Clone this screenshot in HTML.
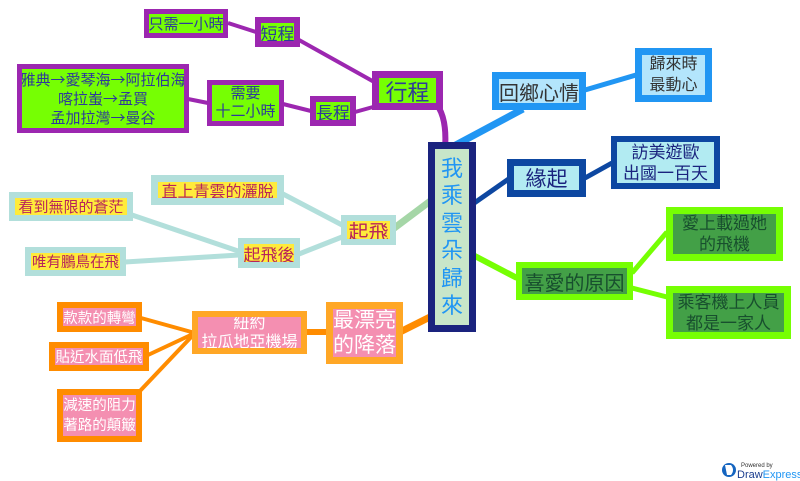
<!DOCTYPE html>
<html><head><meta charset="utf-8">
<style>
html,body{margin:0;padding:0;background:#fff;}
body{width:800px;height:481px;position:relative;overflow:hidden;font-family:"Liberation Sans","Noto Sans CJK TC","Noto Sans CJK SC",sans-serif;}
.n{position:absolute;box-sizing:border-box;border-style:solid;display:flex;align-items:center;justify-content:center;text-align:center;white-space:nowrap;overflow:hidden;}
.p{border-color:#9c27b0;background:#76ff03;color:#2e3a9a;}
.b{border-color:#2196f3;background:#b3e5fc;color:#333;}
.d{border-color:#0d47a1;background:#b2ebf2;color:#1a237e;}
.g{border-color:#76ff03;background:#43a047;color:#184f2e;}
.t{border-color:#b2dfdb;background:#ffeb3b;color:#b8245a;}
.o{border-color:#ff8c00;background:#f48fb1;color:#fff;}
.o2{border-color:#ffa726;background:#f48fb1;color:#fff;}
svg{position:absolute;left:0;top:0;}
</style></head><body>
<svg width="800" height="481" viewBox="0 0 800 481">
 <g stroke-linecap="butt" fill="none">
  <g stroke="#9c27b0" stroke-width="4">
   <line x1="228" y1="23" x2="256" y2="32"/>
   <line x1="299" y1="40" x2="376" y2="83"/>
   <line x1="355" y1="112" x2="373" y2="107"/>
   <line x1="283" y1="104" x2="311" y2="111"/>
   <line x1="188" y1="99" x2="208" y2="103"/>
  </g>
  <path d="M439,108 Q447,122 445,149" stroke="#9c27b0" stroke-width="6"/>
  <line x1="452" y1="147" x2="523" y2="109" stroke="#2196f3" stroke-width="7"/>
  <line x1="585" y1="90" x2="636" y2="75" stroke="#2196f3" stroke-width="5"/>
  <line x1="470" y1="206" x2="510" y2="178" stroke="#0d47a1" stroke-width="5"/>
  <line x1="585" y1="178" x2="612" y2="163" stroke="#0d47a1" stroke-width="5"/>
  <line x1="471" y1="254" x2="517" y2="278" stroke="#76ff03" stroke-width="6"/>
  <line x1="632" y1="273" x2="667" y2="232" stroke="#76ff03" stroke-width="5"/>
  <line x1="632" y1="288" x2="667" y2="297" stroke="#76ff03" stroke-width="5"/>
  <line x1="393" y1="229" x2="433" y2="199" stroke="#a5d6a7" stroke-width="7"/>
  <g stroke="#b2dfdb" stroke-width="5">
   <line x1="283" y1="194" x2="344" y2="226"/>
   <line x1="299" y1="254" x2="342" y2="237"/>
   <line x1="132" y1="215" x2="241" y2="252"/>
   <line x1="125" y1="262" x2="239" y2="255"/>
  </g>
  <line x1="400" y1="332" x2="432" y2="316" stroke="#ff8c00" stroke-width="7"/>
  <line x1="306" y1="332" x2="327" y2="332" stroke="#ff8c00" stroke-width="6"/>
  <g stroke="#ff8c00" stroke-width="4">
   <line x1="141" y1="318" x2="195" y2="333"/>
   <line x1="148" y1="355" x2="195" y2="333"/>
   <line x1="139" y1="392" x2="195" y2="333"/>
  </g>
 </g>
 <!-- logo -->
 <circle cx="729" cy="470" r="7" fill="#1565c0"/>
 <path d="M725,465 L731,465 Q735,470 731,475 L727,475 Z" fill="#fff"/>
 <text x="741" y="467" font-size="6" fill="#333" font-family="Liberation Sans, sans-serif">Powered by</text>
 <text x="737" y="478" font-size="11" fill="#1a3d8f" font-family="Liberation Sans, sans-serif">Draw<tspan fill="#2196f3">Express</tspan></text>
</svg>

<div class="n p" style="left:144px;top:9px;width:84px;height:29px;border-width:5px;font-size:15px;">只需一小時</div>
<div class="n p" style="left:255px;top:17px;width:45px;height:30px;border-width:6px;font-size:17px;">短程</div>
<div class="n p" style="left:372px;top:71px;width:71px;height:39px;border-width:7px;font-size:22px;">行程</div>
<div class="n p" style="left:17px;top:64px;width:172px;height:69px;border-width:5px;font-size:15px;line-height:19px;font-family:'Noto Sans CJK TC','Noto Sans CJK SC',sans-serif;">雅典→愛琴海→阿拉伯海<br>喀拉蚩→孟買<br>孟加拉灣→曼谷</div>
<div class="n p" style="left:207px;top:80px;width:77px;height:46px;border-width:5px;font-size:15px;line-height:18px;">需要<br>十二小時</div>
<div class="n p" style="left:310px;top:96px;width:46px;height:30px;border-width:6px;font-size:17px;">長程</div>

<div class="n b" style="left:492px;top:72px;width:94px;height:38px;border-width:7px;font-size:20px;">回鄉心情</div>
<div class="n b" style="left:635px;top:48px;width:77px;height:54px;border-width:7px;font-size:16px;line-height:21px;">歸來時<br>最動心</div>

<div class="n d" style="left:507px;top:159px;width:79px;height:38px;border-width:7px;font-size:21px;">緣起</div>
<div class="n d" style="left:611px;top:136px;width:109px;height:53px;border-width:6px;font-size:17px;line-height:21px;">訪美遊歐<br>出國一百天</div>

<div class="n g" style="left:516px;top:262px;width:117px;height:38px;border-width:6px;font-size:20px;">喜愛的原因</div>
<div class="n g" style="left:666px;top:207px;width:117px;height:54px;border-width:7px;font-size:17px;line-height:21px;">愛上載過她<br>的飛機</div>
<div class="n g" style="left:666px;top:286px;width:125px;height:53px;border-width:7px;font-size:17px;line-height:21px;">乘客機上人員<br>都是一家人</div>

<div class="n t" style="left:151px;top:175px;width:133px;height:30px;border-width:7px;font-size:16px;">直上青雲的灑脫</div>
<div class="n t" style="left:9px;top:192px;width:124px;height:29px;border-width:6px;font-size:15px;">看到無限的蒼茫</div>
<div class="n t" style="left:25px;top:247px;width:101px;height:29px;border-width:6px;font-size:14.5px;">唯有鵬鳥在飛</div>
<div class="n t" style="left:238px;top:238px;width:62px;height:30px;border-width:6px;font-size:17px;">起飛後</div>
<div class="n t" style="left:341px;top:215px;width:55px;height:30px;border-width:6px;font-size:20px;">起飛</div>

<div class="n o" style="left:57px;top:302px;width:85px;height:30px;border-width:6px;font-size:14.5px;">款款的轉彎</div>
<div class="n o" style="left:49px;top:342px;width:100px;height:29px;border-width:6px;font-size:14.5px;">貼近水面低飛</div>
<div class="n o" style="left:57px;top:389px;width:85px;height:53px;border-width:6px;font-size:14.5px;line-height:20px;">減速的阻力<br>著路的顛簸</div>
<div class="n o2" style="left:192px;top:311px;width:115px;height:43px;border-width:6px;font-size:16px;line-height:19px;">紐約<br>拉瓜地亞機場</div>
<div class="n o2" style="left:326px;top:302px;width:77px;height:62px;border-width:7px;font-size:21px;line-height:25px;">最漂亮<br>的降落</div>

<div class="n" style="left:428px;top:142px;width:48px;height:190px;border-width:7px;border-color:#1a237e;background:#c8e6c9;color:#2196f3;font-size:22px;line-height:27.5px;">我<br>乘<br>雲<br>朵<br>歸<br>來</div>
</body></html>
